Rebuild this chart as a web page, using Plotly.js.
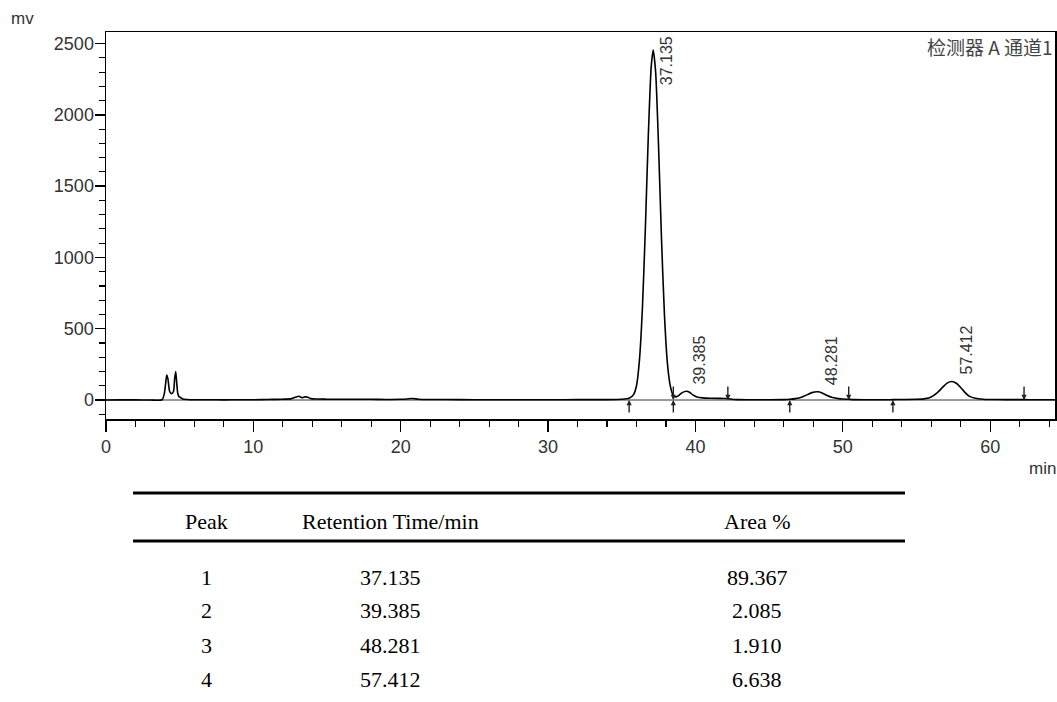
<!DOCTYPE html>
<html>
<head>
<meta charset="utf-8">
<script src="https://cdn.plot.ly/plotly-3.0.1.min.js"></script>
<style>
  html, body { margin: 0; padding: 0; background: #fff; }
  #chart { width: 1057px; height: 702px; }
</style>
</head>
<body>
<div id="chart"></div>
<script>
// Detector A channel 1 chromatogram (retention time in min, signal in mV)
const timeMin = [0, 1, 2, 3, 3.8, 3.95, 4.05, 4.12, 4.2, 4.32, 4.45, 4.58, 4.66, 4.73, 4.8, 4.88, 4.97, 5.05, 5.2, 5.5,
  6, 7, 8, 9, 10, 11, 12, 12.6, 12.9, 13.1, 13.3, 13.5, 13.7, 13.9, 14.3, 15, 16, 17, 18, 19, 20, 20.4, 20.8, 21.2, 22,
  24, 26, 28, 30, 32, 34, 35, 35.5, 35.8, 36.0, 36.2, 36.4, 36.6, 36.8, 37.0, 37.135, 37.3, 37.5, 37.7, 37.9, 38.1,
  38.3, 38.5, 38.7, 38.9, 39.1, 39.385, 39.6, 39.8, 40.1, 40.5, 41, 42, 42.2, 42.6, 43, 44, 45, 46, 46.4, 46.8, 47.2,
  47.6, 47.9, 48.281, 48.6, 48.9, 49.3, 49.7, 50.0, 50.4, 50.8, 52, 53, 53.4, 54, 55, 55.6, 56.0, 56.4, 56.8, 57.1,
  57.412, 57.7, 58.0, 58.3, 58.6, 59.0, 59.5, 60, 61, 62, 62.3, 63, 64, 64.5];
const signalMv = [0, 1, 1, 0, 2, 40, 120, 176, 150, 60, 45, 60, 150, 199, 120, 40, 22, 18, 8, 4,
  2, 2, 1, 2, 2, 4, 6, 10, 22, 26, 16, 22, 20, 10, 7, 6, 5, 6, 5, 4, 5, 7, 11, 6, 4,
  3, 2, 2, 2, 3, 3, 5, 12, 38, 100, 280, 640, 1200, 1850, 2340, 2455, 2300, 1770, 1120, 590, 255,
  95, 32, 22, 35, 52, 62, 55, 38, 22, 15, 12, 11, 10, 4, 3, 2, 2, 3, 5, 10, 20,
  38, 52, 58, 50, 34, 18, 10, 7, 5, 3, 2, 2, 3, 4, 5, 10, 22, 50, 92, 120,
  130, 118, 88, 52, 26, 12, 6, 4, 3, 3, 3, 2, 2, 2];

// Integration start/end marks on the baseline
const markTimes = [35.5, 38.5, 38.5, 42.2, 46.4, 50.4, 53.4, 62.3];
const markDirs = ['up', 'up', 'down', 'down', 'up', 'down', 'up', 'down'];

// Peak table
const peakNo = [1, 2, 3, 4];
const retTimes = [37.135, 39.385, 48.281, 57.412];
const areaPct = [89.367, 2.085, 1.910, 6.638];
const tableHeader = ['Peak', 'Retention Time/min', 'Area %'];

const axisFont = { family: 'Liberation Sans, Arial, sans-serif', size: 18, color: '#333' };
const tableFont = { family: 'Liberation Serif, Times New Roman, serif', size: 22, color: '#000' };

const trace = {
  type: 'scatter', mode: 'lines',
  x: timeMin, y: signalMv,
  line: { color: '#000', width: 1.6, shape: 'spline', smoothing: 0.6 },
  hoverinfo: 'x+y'
};

const annotations = [];
const shapes = [];

// retention-time labels next to each apex
retTimes.forEach(function (t) {
  const h = signalMv[timeMin.indexOf(t)];
  const tall = h > 2000;
  annotations.push({
    x: t, xref: 'x',
    y: tall ? 1 : h, yref: tall ? 'paper' : 'y',
    text: t.toFixed(3), showarrow: false, textangle: -90,
    xanchor: 'left', yanchor: tall ? 'top' : 'bottom',
    xshift: 3, yshift: tall ? -2 : 5,
    font: { family: 'Liberation Sans, Arial, sans-serif', size: 16, color: '#333' }
  });
});

// baseline start/end arrows
markTimes.forEach(function (t, i) {
  const up = markDirs[i] === 'up';
  annotations.push({
    x: t, y: 0, xref: 'x', yref: 'y', text: '',
    showarrow: true, ax: 0, ay: up ? 14 : -15,
    arrowhead: 2, arrowsize: 0.75, arrowwidth: 1.4, arrowcolor: '#222'
  });
});

annotations.push(
  { xref: 'paper', yref: 'paper', x: 1, y: 1, xanchor: 'right', yanchor: 'top', yshift: 1, xshift: 0,
    text: '检测器 A 通道1', showarrow: false,
    font: { family: 'Noto Sans CJK SC, sans-serif', size: 19, color: '#444' } },
  { xref: 'paper', yref: 'paper', x: 0, y: 1, xanchor: 'left', yanchor: 'bottom', xshift: -97, yshift: 2,
    text: 'mv', showarrow: false, font: { family: axisFont.family, size: 17, color: '#333' } },
  { xref: 'paper', yref: 'paper', x: 1, y: 0, xanchor: 'right', yanchor: 'top', yshift: -38, xshift: 3,
    text: 'min', showarrow: false, font: { family: axisFont.family, size: 17, color: '#333' } }
);

// peak table below the plot
const colX = [0.1064, 0.2993, 0.6860];
const headY = -0.2636;
const rowY = [-0.4083, -0.4961, -0.5840, -0.6744];
tableHeader.forEach(function (h, c) {
  annotations.push({ xref: 'paper', yref: 'paper', x: colX[c], y: headY, text: h,
    showarrow: false, xanchor: 'center', yanchor: 'middle', font: tableFont });
});
peakNo.forEach(function (p, r) {
  const cells = [String(p), retTimes[r].toFixed(3), areaPct[r].toFixed(3)];
  cells.forEach(function (v, c) {
    annotations.push({ xref: 'paper', yref: 'paper', x: colX[c], y: rowY[r], text: v,
      showarrow: false, xanchor: 'center', yanchor: 'middle', font: tableFont });
  });
});
[-0.1912, -0.3152].forEach(function (yy) {
  shapes.push({ type: 'line', xref: 'paper', yref: 'paper', x0: 0.0285, x1: 0.8419, y0: yy, y1: yy,
    line: { color: '#000', width: 3 } });
});

const layout = {
  width: 1057, height: 702,
  margin: { l: 106, r: 2, t: 32, b: 283 },
  paper_bgcolor: '#fff', plot_bgcolor: '#fff',
  showlegend: false,
  xaxis: {
    range: [0, 64.4], dtick: 10, tick0: 0,
    showline: true, mirror: true, linecolor: '#000', linewidth: 1.5,
    ticks: 'outside', ticklen: 11, tickwidth: 1.3, tickcolor: '#000',
    minor: { dtick: 2, ticks: 'outside', ticklen: 6, tickcolor: '#000', tickwidth: 1.1 },
    showgrid: false, zeroline: false, tickfont: axisFont
  },
  yaxis: {
    range: [-133, 2581], dtick: 500, tick0: 0,
    showline: true, mirror: true, linecolor: '#000', linewidth: 1.5,
    ticks: 'outside', ticklen: 10, tickwidth: 1.3, tickcolor: '#000',
    minor: { dtick: 100, ticks: 'outside', ticklen: 6, tickcolor: '#000', tickwidth: 1.1 },
    showgrid: false, zeroline: true, zerolinecolor: '#999', zerolinewidth: 1.5,
    tickfont: axisFont, ticklabelstandoff: -3
  },
  annotations: annotations,
  shapes: shapes
};

Plotly.newPlot('chart', [trace], layout, { displayModeBar: false, staticPlot: true });
</script>
</body>
</html>
